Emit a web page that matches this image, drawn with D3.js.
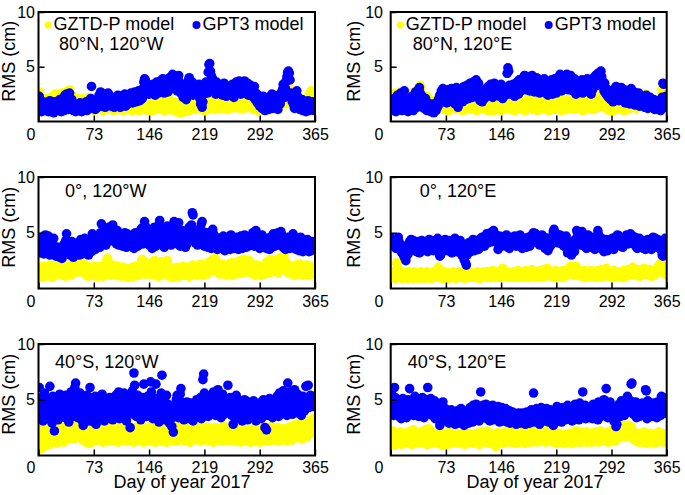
<!DOCTYPE html>
<html><head><meta charset="utf-8">
<script src="https://cdn.jsdelivr.net/npm/d3@7"></script>
<style>body{margin:0;background:#fff} svg text{font-family:"Liberation Sans",Arial,Helvetica,sans-serif;fill:#000}</style>
</head><body><svg id="c" width="685" height="495"></svg>
<script>
const xTicks=[0,73,146,219,292,365];
const yTicks=[5,10];
const panelTitles=["80°N, 120°W","80°N, 120°E","0°, 120°W","0°, 120°E","40°S, 120°W","40°S, 120°E"];
const seriesNames=["GZTD-P model","GPT3 model"];
const xTitle="Day of year 2017";
const yTitle="RMS (cm)";

// Panel 1: 80°N, 120°W
const p1GZTD=[2.7,2.2,1.5,1.2,1.8,2.0,1.4,1.1,1.6,2.1,1.3,1.0,1.7,1.9,1.2,1.5,2.2,1.4,1.0,1.8,2.4,2.5,1.6,1.2,2.0,2.3,1.5,1.1,1.7,2.2,2.6,1.8,1.3,1.0,1.9,2.4,2.7,2.0,1.4,2.8,2.9,2.2,1.6,1.2,1.8,2.3,1.5,1.1,1.3,1.7,1.2,1.9,1.4,1.0,1.6,2.1,1.3,1.1,1.5,1.8,2.0,1.4,1.2,1.7,1.3,1.9,2.2,1.5,1.1,1.6,1.4,1.9,1.2,1.0,1.7,2.0,1.3,1.6,1.1,1.8,1.5,1.2,1.9,1.4,1.0,1.6,2.1,1.3,1.2,1.7,1.4,1.1,1.8,1.5,1.2,1.9,1.3,1.6,1.0,1.4,1.7,1.2,1.5,1.9,1.3,1.1,1.6,1.4,1.8,1.2,1.5,1.0,1.3,1.7,1.2,1.6,1.4,1.1,1.8,1.3,1.2,1.6,1.0,1.4,1.9,1.3,1.1,1.5,1.7,1.2,1.4,1.0,1.6,1.3,1.8,1.2,1.5,1.1,1.7,1.4,1.2,1.6,1.3,1.0,1.5,1.9,1.4,1.1,1.7,1.3,1.0,1.5,1.8,1.2,1.4,1.9,1.1,1.6,2.0,1.3,1.7,1.2,1.5,2.1,1.4,1.0,1.8,1.3,1.6,2.0,1.3,1.1,1.7,1.4,1.9,1.2,1.5,1.0,1.6,1.8,1.2,0.9,1.4,1.7,1.1,1.5,0.8,1.3,1.6,1.0,1.4,1.8,1.2,0.9,1.5,1.1,1.7,1.3,1.0,1.6,1.9,1.4,1.2,1.7,2.0,1.3,1.6,1.1,1.8,2.2,1.5,1.2,1.9,1.4,1.7,2.1,1.3,1.6,1.0,1.5,1.8,1.3,1.1,1.6,2.0,1.4,1.2,1.7,1.9,1.3,1.5,1.1,1.8,2.2,1.4,1.6,1.2,1.9,1.3,1.7,2.1,1.5,1.2,1.8,1.4,1.6,2.0,1.3,1.1,1.7,1.9,1.4,1.6,1.2,2.2,1.5,1.3,1.8,2.4,1.6,1.3,1.7,2.0,1.5,1.2,1.8,2.3,1.4,1.6,1.9,1.2,1.5,2.1,1.7,1.3,1.9,2.4,1.6,1.4,1.8,2.0,1.3,1.6,1.1,1.8,1.4,1.2,1.7,1.5,1.0,1.3,1.6,1.1,1.4,1.8,1.2,1.5,1.0,1.7,1.3,1.6,1.2,1.9,1.4,1.1,1.7,2.0,1.5,1.3,1.8,2.2,1.6,1.4,1.9,2.4,1.7,1.3,2.1,1.8,2.5,1.9,2.3,2.7,2.0,1.6,2.8,3.1,2.4,2.9,3.2,2.6,2.2,1.8,2.5,1.5,1.9,1.3,2.2,1.6,1.4,1.8,1.2,2.0,1.5,1.1,1.7,1.3,1.9,1.4,1.0,1.6,2.0,1.3,1.7,2.2,1.5,1.8,2.4,2.6,2.8,2.3,1.9,2.5,2.7,2.8];
const p1GPT3=[2.3,1.6,1.1,0.9,1.4,1.8,1.2,1.0,1.5,1.3,1.7,1.1,0.9,1.4,1.9,1.3,1.0,1.6,1.2,0.8,1.5,1.8,1.1,1.4,1.0,1.7,1.3,2.0,1.2,0.9,1.6,2.1,1.4,1.0,2.4,1.8,2.5,1.3,1.1,2.2,2.6,1.9,1.5,2.0,1.2,1.0,1.6,1.3,0.9,1.4,1.1,1.5,1.0,1.3,1.7,1.2,0.9,1.4,1.6,1.1,1.5,1.2,1.8,1.0,1.6,1.3,1.9,1.4,2.1,3.2,1.7,1.2,1.5,1.9,1.1,1.6,2.0,1.3,1.8,2.4,1.5,2.7,2.1,1.4,1.9,2.5,1.7,1.3,2.2,1.6,2.0,2.6,1.5,1.8,2.3,1.4,1.9,1.6,2.1,1.3,1.7,2.2,1.5,1.9,2.4,1.6,2.0,1.3,1.8,2.3,1.5,2.1,1.7,2.5,1.4,1.9,2.2,1.6,2.0,2.4,1.8,2.6,2.1,1.7,2.3,1.9,2.7,2.2,1.8,2.5,2.0,2.8,2.3,1.9,2.6,2.4,2.1,3.0,3.6,3.9,3.8,3.5,3.2,2.7,3.0,2.5,2.8,3.3,2.6,2.9,3.4,2.7,3.1,2.4,2.9,3.6,3.2,2.6,3.5,3.0,3.7,2.8,3.3,3.9,3.1,2.6,3.5,2.9,3.8,3.2,2.7,3.4,4.0,3.6,3.1,3.8,4.3,4.1,3.5,3.0,3.7,3.3,2.8,3.9,4.2,3.6,3.1,2.6,3.4,2.9,2.2,2.6,3.1,2.4,2.0,2.7,3.3,3.8,4.0,3.5,3.2,2.8,3.6,2.4,3.0,2.6,3.3,2.9,2.5,3.1,2.7,3.4,2.1,1.6,2.9,1.3,1.8,2.5,3.2,2.8,3.6,3.0,2.6,4.5,5.2,5.3,4.6,4.2,3.5,3.9,3.3,2.8,3.1,2.5,3.6,3.0,2.7,3.4,2.9,3.2,2.6,3.1,2.4,2.8,3.5,2.7,3.0,2.3,2.9,2.5,3.2,2.6,3.0,2.4,2.8,3.4,2.9,2.2,2.7,3.1,3.6,2.9,3.3,2.7,3.7,3.0,2.5,3.4,3.6,2.8,3.1,3.7,2.6,3.2,2.9,3.5,2.4,3.0,2.7,3.3,2.8,2.3,3.0,2.5,3.2,2.0,2.6,2.2,1.7,2.4,1.9,1.4,2.1,1.6,1.2,1.8,2.3,1.5,1.0,1.7,1.3,2.0,1.6,1.1,2.2,1.4,1.8,2.5,1.2,1.9,2.4,1.7,1.3,2.0,1.5,1.1,1.8,2.3,1.6,2.6,2.1,2.9,3.4,2.5,2.2,3.0,3.7,4.1,4.5,4.6,4.4,3.8,2.6,2.1,1.8,2.4,1.5,1.2,2.0,1.6,2.8,2.3,1.4,1.9,1.1,1.7,1.3,2.0,1.0,1.5,1.8,1.2,0.9,1.6,1.3,1.9,1.0,1.4,1.7,1.1,1.5,1.2,1.8,1.0,1.4];

// Panel 2: 80°N, 120°E
const p2GZTD=[1.8,2.4,1.5,1.2,2.0,2.6,1.7,1.3,2.1,1.6,2.3,1.4,1.9,2.7,1.6,1.2,2.0,2.5,1.5,1.8,2.2,1.3,1.7,2.4,1.9,1.4,2.1,2.6,1.6,1.2,1.9,2.3,1.5,2.8,2.1,1.7,2.5,3.1,3.3,2.9,2.4,1.8,2.2,1.5,2.0,1.3,1.7,2.3,1.6,1.1,1.5,1.9,1.2,1.6,1.0,1.4,1.8,1.1,1.5,2.0,1.3,1.7,2.2,1.4,1.8,1.1,1.6,2.0,1.3,1.5,1.9,1.2,1.7,2.1,1.4,1.0,1.6,1.9,1.3,1.5,1.8,1.2,1.4,2.0,1.6,1.1,1.5,1.9,1.3,1.7,1.2,1.6,2.1,1.4,1.0,1.7,1.3,1.8,1.5,1.1,1.6,2.0,1.3,1.7,1.2,1.5,2.2,1.4,1.8,1.1,1.5,1.9,1.3,1.0,1.6,1.4,1.8,1.2,1.5,2.0,1.3,1.7,1.1,1.5,1.9,1.2,1.6,1.0,1.4,1.8,1.2,1.5,1.9,1.3,1.0,1.6,1.4,1.8,1.1,1.5,1.7,1.2,1.4,1.9,1.0,1.6,1.3,1.8,1.5,1.1,1.4,1.8,1.2,1.6,2.0,1.3,1.5,1.1,1.7,1.4,1.9,1.2,1.6,1.0,1.5,1.8,1.3,1.7,2.1,1.4,1.2,1.6,1.9,1.1,1.5,1.3,1.8,1.0,1.4,1.7,2.0,1.3,1.6,1.2,1.9,1.5,1.1,1.7,2.2,1.4,1.2,1.8,1.5,1.0,1.6,2.0,1.3,1.7,1.1,1.5,1.9,1.4,2.3,1.6,1.2,1.8,1.4,2.1,1.0,1.6,1.3,1.7,2.0,1.2,1.5,1.9,1.1,1.6,1.4,1.8,1.2,1.5,2.1,1.3,1.7,1.0,1.6,1.9,1.4,1.2,1.8,1.5,1.1,1.7,2.0,1.3,1.6,1.2,1.9,1.4,1.6,1.1,1.8,1.4,1.2,1.7,2.1,1.5,1.3,1.9,1.4,1.2,1.7,1.0,1.5,1.9,1.3,1.6,2.2,1.4,1.8,1.2,1.5,2.0,1.3,1.7,1.1,1.6,1.9,1.4,1.2,1.7,2.1,1.5,1.3,1.8,2.3,1.6,1.4,2.0,2.4,1.7,1.4,1.9,1.2,1.6,1.3,1.8,1.0,1.5,1.7,1.2,1.4,1.0,1.6,1.9,1.3,1.1,1.5,1.8,1.3,1.6,1.1,1.4,1.9,1.2,1.7,1.5,1.0,1.4,1.8,1.3,1.6,2.0,1.4,1.2,1.7,1.5,1.9,1.3,1.6,2.1,1.4,1.8,1.2,1.5,1.9,2.3,1.7,1.4,2.0,1.6,2.4,1.8,1.3,2.2,2.5,1.9,1.5,1.7,1.3,1.8,2.1,1.5,1.2,1.7,1.4,2.0,1.6,1.1,1.5,1.9,1.3,1.7,1.0,1.4,1.8,2.4,2.9,3.2,3.0,2.2,1.6,1.3,2.0];
const p2GPT3=[1.2,1.8,1.0,1.5,2.1,1.3,0.9,1.6,2.4,1.4,1.1,1.9,2.6,1.5,1.0,1.7,2.2,2.8,1.6,1.2,1.8,1.3,0.9,1.5,2.0,1.1,1.4,2.3,1.7,1.0,1.6,2.5,2.7,1.9,1.3,2.2,2.9,3.1,2.6,2.0,1.5,2.3,1.8,1.2,1.6,2.1,1.4,1.0,1.7,1.3,1.0,1.4,0.9,1.2,1.6,1.1,0.8,1.3,1.5,1.0,1.7,1.3,2.0,1.6,2.4,1.9,2.8,2.2,3.0,2.5,1.9,2.6,2.1,1.7,2.9,2.3,1.8,2.7,2.2,3.0,2.4,1.9,2.8,2.2,1.6,2.6,3.1,2.3,1.3,2.0,2.5,3.0,2.1,2.7,1.8,2.4,3.2,2.6,2.0,2.9,3.3,2.5,2.1,2.8,3.5,2.4,3.0,2.2,3.6,3.1,2.6,3.4,3.8,3.0,2.7,3.5,2.3,1.9,2.5,2.2,1.8,2.4,2.8,2.1,2.6,3.0,2.3,2.7,3.2,2.5,2.9,3.4,2.6,3.1,2.2,2.8,3.5,3.3,2.7,2.4,3.0,2.6,3.2,2.3,2.8,3.4,2.5,2.1,2.9,3.1,2.7,2.4,3.0,4.4,4.9,4.6,3.3,2.8,2.5,3.1,2.6,3.4,2.9,2.3,3.2,2.7,3.6,3.0,2.5,3.8,3.3,2.8,3.5,3.9,3.1,4.0,4.2,3.6,2.9,3.4,4.1,3.7,3.2,2.8,3.5,3.0,4.2,3.8,3.3,2.7,3.6,3.1,4.0,2.9,3.4,3.8,2.6,3.2,3.7,3.0,3.5,2.8,3.9,3.3,2.6,3.1,3.6,2.4,3.0,3.4,2.7,3.2,3.8,2.5,2.9,3.5,3.9,3.1,2.6,3.3,4.0,3.6,3.0,4.3,3.4,2.8,3.7,3.2,4.1,3.5,3.0,3.8,4.3,3.5,2.9,3.3,3.9,4.2,3.1,3.6,2.8,3.4,3.9,3.0,2.5,3.2,3.7,2.7,3.3,2.9,3.5,3.1,3.8,2.6,3.2,3.6,3.0,3.4,2.8,3.9,3.3,2.7,3.1,3.7,2.5,3.2,2.9,3.5,4.0,3.6,4.2,3.8,3.3,4.4,3.9,3.4,4.5,4.6,4.1,3.7,3.2,2.8,3.5,2.6,3.0,2.4,2.9,2.2,2.7,2.5,2.0,2.6,2.3,1.8,2.9,2.4,2.1,3.2,2.7,2.2,2.5,1.9,2.8,2.3,3.1,2.6,2.0,2.4,2.9,1.7,2.2,2.6,1.9,2.4,2.1,1.6,2.3,3.0,2.5,1.8,2.1,2.7,1.5,2.0,2.4,1.8,2.2,2.6,1.4,1.9,2.3,1.7,2.1,1.5,2.0,1.3,1.8,2.4,1.6,1.2,1.9,1.5,2.2,1.7,1.3,1.8,1.4,2.0,1.1,1.6,1.3,1.9,1.5,1.1,1.7,1.4,1.0,1.6,2.2,3.5,3.4,1.8,1.3,2.3,1.5];

// Panel 3: 0°, 120°W
const p3GZTD=[1.5,1.2,1.8,1.0,1.4,2.0,1.3,1.6,1.1,1.9,1.4,1.7,1.2,1.5,2.1,1.3,1.8,1.0,1.6,1.4,1.9,1.2,1.5,2.2,1.7,1.3,2.6,3.7,1.8,1.4,1.6,2.0,1.2,1.5,1.8,1.1,1.4,1.9,1.3,1.7,1.5,2.1,1.2,1.6,1.9,1.4,2.3,1.7,2.0,2.5,1.8,2.2,1.5,2.4,2.8,2.0,1.6,2.3,1.9,1.4,1.7,2.1,1.3,1.6,1.1,1.5,1.9,1.2,1.7,1.4,1.8,1.2,1.5,2.0,1.3,1.6,1.1,1.4,1.9,1.5,1.2,1.7,2.0,1.4,1.1,1.6,1.9,1.3,2.2,2.5,2.7,1.8,1.4,1.6,1.2,1.9,1.5,2.1,1.3,1.7,1.4,1.8,1.2,1.6,2.0,1.3,1.7,1.5,1.1,1.8,1.4,1.9,1.6,1.2,1.5,1.8,1.3,1.0,1.6,1.4,1.2,1.7,1.5,1.9,1.3,1.1,1.6,2.0,1.4,1.8,1.5,1.2,1.7,2.1,1.9,2.4,2.6,2.0,1.6,1.3,1.7,2.2,1.5,1.8,1.3,1.6,2.0,1.4,1.9,2.3,1.6,1.2,2.5,1.8,1.4,2.1,1.5,1.1,1.7,1.3,2.0,2.4,1.6,1.9,1.3,1.5,2.2,1.4,1.8,2.5,1.7,1.2,1.5,1.1,1.6,1.3,1.8,1.0,1.4,1.7,1.2,1.5,1.9,1.3,1.6,1.1,1.4,1.8,1.2,1.5,2.0,1.4,1.7,1.2,1.6,1.9,1.3,1.5,1.1,1.4,1.8,1.2,1.6,2.1,1.4,1.7,1.3,1.9,1.5,1.2,1.6,2.0,1.3,1.7,2.2,1.5,1.2,1.8,1.4,1.6,2.1,1.3,1.7,2.3,1.5,1.9,2.4,1.6,2.0,2.6,2.2,1.8,2.7,2.4,1.9,1.5,2.1,1.7,1.3,1.6,1.9,1.4,2.2,1.6,1.3,1.8,2.0,1.5,1.2,1.7,2.1,1.4,1.8,2.3,1.6,1.2,1.9,1.5,2.2,1.7,1.3,2.0,2.4,1.6,1.9,2.5,1.8,1.4,2.2,1.7,2.6,2.1,1.5,1.9,2.3,1.6,2.0,2.5,1.8,1.4,2.2,1.7,1.4,2.0,1.6,1.2,1.8,1.5,2.1,1.3,1.7,1.4,1.9,1.2,1.6,2.0,1.5,1.3,1.8,2.2,1.6,2.4,1.9,1.4,2.1,2.6,1.8,1.5,2.3,1.7,2.0,2.5,1.6,2.2,1.9,1.4,2.4,2.7,2.1,1.8,2.3,2.6,2.0,3.0,3.3,2.4,1.9,2.2,1.6,1.4,1.8,1.5,2.0,1.3,1.7,1.4,1.9,1.2,1.6,2.1,1.5,1.8,1.3,1.6,2.2,1.4,1.9,1.7,1.2,2.0,1.6,1.3,1.8,2.1,1.5,1.7,1.2,1.9,1.4,1.6,2.0,1.5,1.8,1.3,1.7];
const p3GPT3=[3.6,3.2,4.0,3.5,4.6,3.8,3.1,4.3,4.8,3.9,3.4,4.1,4.7,3.7,3.0,4.4,3.6,4.0,3.3,4.5,3.8,3.2,2.9,3.5,3.0,3.7,3.3,2.8,3.4,3.1,2.7,3.6,3.2,4.0,3.5,4.3,4.9,4.1,3.6,3.9,3.4,3.0,3.7,4.2,3.3,2.8,3.5,4.0,3.2,3.8,3.3,4.1,3.6,3.0,3.9,4.4,3.5,3.1,4.2,3.7,4.5,3.8,3.2,4.0,3.6,3.0,3.4,4.1,3.7,3.3,4.9,4.3,3.8,4.6,3.5,4.0,4.4,3.9,4.7,4.2,3.7,5.0,5.8,4.5,4.1,4.8,5.2,4.4,3.9,4.6,5.3,4.9,5.5,4.7,5.1,4.3,5.4,5.7,4.8,4.2,5.0,4.4,4.0,5.2,4.6,3.9,4.5,4.1,4.8,4.3,3.8,4.6,4.2,5.0,4.4,3.7,4.9,4.3,4.0,4.7,4.2,3.9,4.5,4.8,4.1,3.6,4.4,5.0,4.6,4.2,3.8,4.5,5.1,4.3,4.9,5.4,4.6,4.0,5.2,6.0,5.6,5.0,4.4,5.3,4.7,3.9,4.5,5.1,4.1,3.6,4.8,4.2,5.5,4.6,3.8,4.4,5.0,4.3,5.7,6.1,5.2,4.6,4.0,5.4,4.5,3.7,4.9,5.3,4.2,5.6,4.8,4.1,5.2,4.4,3.9,5.0,4.6,5.5,6.0,5.1,4.5,5.3,4.0,4.7,5.9,4.3,3.8,4.9,4.4,5.2,4.6,4.1,5.0,3.7,4.5,4.0,4.8,4.3,5.5,5.0,4.4,5.7,6.8,6.6,5.3,4.7,4.1,5.0,4.5,3.9,4.6,5.2,4.3,4.9,5.8,6.0,5.1,4.4,3.8,4.7,4.2,5.0,4.5,3.7,4.3,4.0,4.8,3.6,4.4,5.3,4.9,4.3,3.9,4.6,4.1,3.5,4.5,4.0,3.8,4.3,3.6,4.2,3.9,4.7,4.0,3.4,4.4,3.8,4.6,4.1,3.7,4.3,3.5,4.8,4.2,3.9,4.5,3.6,4.1,4.4,3.8,4.6,4.0,3.5,4.3,3.9,4.7,4.1,3.6,4.4,4.0,4.8,4.2,3.7,4.5,4.1,3.8,4.6,4.3,3.9,4.7,4.2,5.0,4.4,3.8,4.5,5.2,4.3,3.9,4.6,4.1,3.6,4.4,4.0,4.8,3.7,4.3,3.9,4.5,4.2,3.6,4.3,3.8,4.1,3.5,4.6,4.0,3.7,4.4,4.9,4.2,3.8,4.5,4.0,4.7,5.0,4.3,3.9,4.6,5.1,4.8,4.1,3.7,4.4,4.0,3.5,4.2,3.8,4.6,3.9,4.3,3.6,4.1,3.7,4.5,4.9,4.2,3.8,4.4,3.5,4.0,3.7,4.3,3.4,3.9,4.6,3.6,4.1,3.3,3.8,4.2,3.5,4.0,3.6,4.4,3.8,3.3,3.9,4.1,3.4,3.7,4.2,3.6,4.0,3.5];

// Panel 4: 0°, 120°E
const p4GZTD=[1.3,1.0,1.5,1.1,1.4,0.9,1.6,2.3,2.1,1.2,1.0,1.4,1.1,1.3,0.9,1.5,1.2,1.0,1.4,1.1,1.3,0.9,1.2,1.5,1.0,1.3,1.1,1.4,0.9,1.2,1.5,1.1,1.3,1.0,1.4,1.2,0.9,1.3,1.1,1.5,1.2,1.0,1.4,1.1,1.3,0.9,1.2,1.5,1.0,1.3,1.1,1.4,0.9,1.2,1.0,1.3,1.5,1.1,1.4,1.0,1.2,1.6,1.9,1.3,1.0,1.4,1.1,1.3,0.9,1.2,1.5,1.1,1.4,1.0,1.3,1.2,0.9,1.4,1.1,1.3,1.0,1.2,1.5,1.1,1.3,0.9,1.2,1.4,1.0,1.3,1.1,1.5,1.2,1.0,1.4,1.1,1.3,0.9,1.2,1.4,1.1,1.3,1.0,1.5,1.2,1.4,1.0,1.3,1.1,1.2,1.4,1.0,1.3,1.1,1.5,1.2,0.9,1.4,1.1,1.3,1.0,1.2,1.5,1.1,1.4,1.3,1.0,1.2,1.5,1.1,1.3,1.0,1.4,1.2,1.6,1.1,1.3,1.0,1.5,1.2,1.4,1.1,1.3,1.0,1.5,1.2,1.4,1.8,1.6,1.3,1.1,1.4,1.2,1.5,1.0,1.3,1.1,1.4,1.2,1.0,1.3,1.5,1.1,1.4,1.2,1.0,1.3,1.6,1.1,1.4,1.2,1.0,1.5,1.3,1.1,1.4,1.2,1.6,1.0,1.3,1.1,1.5,1.3,1.0,1.4,1.2,1.7,1.3,1.1,1.4,1.2,1.0,1.5,1.3,1.1,1.4,1.2,1.6,1.3,1.0,1.4,1.2,1.7,1.1,1.3,1.5,1.8,1.4,1.2,1.6,1.3,1.1,1.5,1.2,1.4,1.0,1.3,1.6,1.2,1.4,1.1,1.3,1.5,1.2,1.0,1.4,1.2,1.6,1.3,1.1,1.4,1.2,1.5,1.3,1.7,1.4,1.8,2.0,1.6,1.3,1.5,1.2,1.4,1.7,2.0,1.8,1.5,1.3,1.6,1.2,1.4,1.1,1.3,1.5,1.2,1.6,1.0,1.4,1.2,1.3,1.5,1.1,1.4,1.2,1.6,1.3,1.1,1.5,1.2,1.4,1.0,1.3,1.6,1.2,1.4,1.1,1.5,1.3,1.7,1.2,1.4,1.1,1.3,1.6,1.8,1.5,1.2,1.4,1.1,1.3,1.5,1.2,1.0,1.4,1.6,1.3,1.1,1.5,1.2,1.4,1.1,1.3,1.5,1.2,1.4,1.0,1.3,1.6,1.2,1.4,1.1,1.5,1.3,1.7,1.4,1.2,1.5,1.3,1.6,1.9,1.5,1.3,1.6,1.2,1.4,1.7,1.3,1.5,1.1,1.4,1.6,1.3,1.5,1.2,1.8,1.4,1.6,1.3,1.5,1.2,1.4,1.7,1.3,1.5,1.1,1.4,1.6,1.2,1.5,1.3,1.7,1.4,1.9,1.5,2.0,2.2,1.8,1.5,2.1,1.6,1.4,1.8,1.3,1.6,1.2];
const p4GPT3=[4.5,4.2,4.0,4.4,3.8,4.3,3.6,4.1,3.9,4.6,4.2,3.7,3.4,3.9,3.2,3.6,3.0,2.8,3.3,2.5,2.9,3.5,3.1,3.8,4.2,3.6,4.4,4.0,3.7,4.3,3.9,3.5,4.1,3.3,3.8,4.2,3.6,3.2,4.0,3.7,4.3,3.4,3.9,3.6,4.2,3.8,3.5,4.1,3.3,3.9,4.4,3.7,4.2,3.9,3.5,4.0,3.4,3.8,4.3,3.6,4.1,4.5,3.7,3.2,2.9,3.0,3.6,3.3,3.9,4.2,3.8,4.4,3.6,4.1,3.4,3.9,4.3,3.7,4.0,3.5,3.2,3.8,4.2,3.6,4.5,3.9,3.3,4.1,3.7,3.4,3.8,4.3,3.5,3.0,3.9,3.3,2.6,3.6,2.3,2.1,3.0,3.7,4.1,3.5,3.9,3.3,4.2,3.7,4.4,3.8,3.4,4.0,3.6,4.3,3.9,3.5,4.1,3.7,4.5,4.2,4.6,4.0,4.4,3.8,4.7,4.3,4.9,4.5,4.1,4.8,4.4,5.0,4.6,4.2,4.9,5.2,4.7,4.3,4.8,4.5,4.1,3.5,4.3,4.7,4.0,4.4,3.8,4.6,4.2,3.9,4.5,4.1,4.8,4.4,3.7,4.3,3.6,4.0,4.6,4.2,3.9,4.5,4.1,4.7,4.3,3.8,4.4,4.0,4.6,4.2,4.8,4.4,4.0,3.6,4.3,3.9,4.5,4.1,3.7,4.4,4.0,4.6,4.2,3.8,4.5,4.1,4.8,4.4,5.0,4.7,4.3,4.9,4.5,4.1,4.7,4.3,3.9,4.6,4.2,4.8,4.4,4.0,4.6,3.6,4.2,3.8,4.5,3.4,4.1,3.7,4.3,3.9,4.6,4.1,5.1,5.3,4.8,4.4,4.9,4.5,4.1,4.7,4.3,4.8,4.4,4.0,4.6,4.2,3.8,4.5,4.1,4.7,3.6,3.2,3.7,3.4,3.9,3.5,3.0,3.6,4.2,3.8,3.3,4.4,3.9,5.2,5.0,4.6,4.9,4.3,3.9,4.5,5.1,4.7,4.2,3.8,4.4,4.0,3.6,4.3,4.8,4.4,4.1,3.7,4.5,4.2,3.8,4.6,4.0,3.5,4.3,3.9,4.7,5.2,4.8,4.4,4.0,3.6,4.5,4.1,3.7,3.3,3.9,3.5,4.4,4.0,3.4,3.8,4.3,3.6,4.1,3.7,4.5,4.0,3.5,4.2,4.6,3.9,4.4,4.8,4.3,4.7,4.2,3.8,4.5,4.1,3.7,4.4,4.0,4.6,4.2,4.8,4.4,4.0,4.6,4.2,4.9,4.5,4.1,4.7,4.3,4.0,4.6,3.8,4.4,3.6,4.2,3.9,4.5,4.1,3.7,4.3,4.0,3.6,4.2,3.8,3.5,4.1,3.7,4.4,4.0,3.6,4.3,3.9,3.5,4.2,4.6,4.3,3.9,4.5,4.1,3.8,4.4,4.0,3.6,4.3,3.9,3.4,3.0,2.9,3.7,4.2,4.5,4.0,4.3];

// Panel 5: 40°S, 120°W
const p5GZTD=[2.3,1.4,0.6,1.8,2.6,1.1,0.8,2.0,1.5,2.4,1.2,1.9,2.5,1.6,1.0,2.2,1.4,2.7,1.8,1.3,2.1,1.6,2.4,1.1,1.9,2.6,1.5,2.2,1.3,2.0,2.5,1.7,1.2,2.3,1.8,2.8,1.4,2.1,2.6,1.6,2.2,2.9,1.8,2.4,3.0,1.5,2.7,2.0,3.2,2.5,1.9,2.8,3.1,2.3,1.7,2.6,2.1,1.4,2.9,2.4,1.8,2.3,1.2,2.0,2.7,1.5,2.2,1.1,1.9,2.5,1.6,2.4,2.8,1.3,2.1,1.7,2.6,1.4,2.0,2.9,2.3,1.5,2.7,1.9,1.2,2.4,1.8,2.6,1.4,2.1,2.5,1.7,2.2,1.3,1.9,2.6,1.5,2.0,2.4,1.6,2.1,1.4,2.5,1.8,1.2,2.3,1.6,2.7,1.9,1.3,2.2,1.7,2.4,1.5,2.0,1.3,2.6,1.8,2.2,1.4,1.9,2.3,1.5,2.5,1.2,2.0,1.7,2.4,1.4,2.1,1.6,2.6,1.9,1.3,2.2,1.5,2.4,1.8,1.2,2.0,2.5,1.6,2.1,1.4,2.3,1.7,2.6,1.3,1.9,2.2,1.5,2.4,1.8,1.2,2.1,1.6,2.5,1.4,2.0,1.7,2.3,1.3,1.9,2.6,1.5,2.2,1.7,2.4,1.2,1.8,2.1,1.5,2.5,1.9,1.3,2.3,1.6,2.0,1.4,2.2,1.7,2.4,1.3,1.9,2.6,1.5,2.1,1.8,2.3,1.4,2.0,1.6,2.5,1.3,2.2,1.8,1.5,2.4,1.9,1.2,2.1,1.7,2.6,1.4,2.3,1.9,1.5,2.2,1.8,2.5,1.4,2.0,1.6,2.4,1.3,2.1,1.8,2.6,1.5,2.3,1.9,1.4,2.2,1.7,2.5,1.3,2.0,1.6,2.4,1.8,1.2,2.1,1.7,2.5,1.4,2.3,1.9,1.5,2.2,1.6,2.4,1.3,2.0,1.8,2.6,1.5,2.2,1.4,1.9,2.3,1.6,2.1,1.3,2.5,1.8,1.4,2.2,1.7,2.4,1.5,2.0,1.3,2.3,1.8,1.5,2.1,1.2,1.9,2.4,1.6,1.4,2.2,1.7,1.3,2.0,1.6,2.3,1.5,1.9,1.2,2.1,1.7,1.4,2.4,1.6,2.0,1.3,1.8,2.2,1.5,1.9,1.2,2.3,1.6,2.0,1.4,2.5,1.8,1.3,2.1,1.6,2.4,1.9,1.3,2.2,1.7,2.6,1.5,2.0,1.4,2.3,1.8,1.4,2.1,1.6,2.5,1.3,1.9,2.2,1.5,2.0,1.7,2.4,1.4,2.1,1.6,2.3,1.3,1.8,2.5,1.5,2.2,1.9,2.6,1.4,2.0,2.4,1.7,2.8,2.2,1.6,2.5,2.0,2.9,1.8,2.3,2.7,1.5,2.1,2.6,1.9,2.4,3.0,2.2,1.7,2.8,2.3,3.1,2.5,2.0,2.9,3.3,2.4,2.7,3.1];
const p5GPT3=[6.1,4.4,3.6,5.2,4.0,3.1,4.8,5.6,3.8,4.3,3.3,5.0,4.1,3.7,6.2,4.6,3.9,2.9,5.3,4.2,2.2,4.7,3.5,5.1,4.0,3.2,4.5,5.5,3.8,4.3,4.9,3.6,5.2,4.1,3.4,5.4,4.6,3.9,4.4,3.0,5.0,3.7,5.7,4.2,3.5,5.6,4.5,6.1,6.5,5.3,4.1,3.4,4.8,3.9,5.6,4.4,3.2,4.9,2.7,4.3,3.6,5.1,4.2,5.4,3.8,4.6,3.1,6.1,5.2,4.0,3.5,4.8,3.0,4.3,5.3,2.8,3.9,4.6,3.6,5.0,4.2,3.3,4.7,5.5,3.8,4.4,3.1,5.1,3.7,4.9,4.5,3.4,4.0,5.2,4.3,3.6,4.8,3.2,5.0,4.1,3.5,5.4,4.6,3.8,4.2,5.7,3.3,4.7,3.9,5.1,4.4,3.6,5.6,4.8,4.0,3.1,4.9,4.3,5.3,3.7,2.5,4.6,3.9,5.8,4.4,7.4,6.3,4.9,3.5,4.2,5.4,4.1,3.6,5.0,3.2,4.5,5.2,3.8,6.4,4.7,4.0,4.8,3.5,5.3,4.3,3.7,4.9,6.6,5.7,4.4,3.3,4.6,3.9,5.1,6.4,4.2,3.6,4.8,3.0,3.8,5.0,5.6,7.2,4.3,3.7,4.9,3.2,4.5,5.4,4.0,4.6,3.5,2.9,4.2,3.8,2.6,3.4,2.1,3.9,4.5,3.6,5.0,5.4,4.2,3.4,4.7,5.5,6.0,4.8,3.9,4.4,3.2,3.7,4.3,3.5,4.8,3.9,4.5,3.3,4.0,4.7,3.6,4.3,3.1,3.8,4.5,3.4,4.1,5.0,3.7,4.4,3.9,4.6,5.2,3.3,4.8,6.8,7.3,5.6,4.2,3.8,4.5,5.1,3.5,4.9,4.0,4.6,5.4,3.7,4.3,5.7,4.1,4.8,3.6,5.3,4.4,5.9,3.9,4.7,4.2,3.4,4.9,5.5,4.3,3.7,4.6,5.1,4.0,4.5,6.3,4.8,3.9,5.2,4.4,3.6,5.0,2.8,4.2,3.5,4.7,5.4,4.0,4.5,3.3,4.9,4.1,3.7,4.6,3.1,4.3,3.8,5.0,4.4,3.5,4.7,3.2,4.1,4.8,3.6,4.5,3.9,4.3,3.4,4.9,3.7,4.2,3.1,4.6,3.8,4.1,3.5,4.7,4.0,3.3,4.4,3.8,5.0,4.2,2.5,3.6,2.3,4.5,4.9,3.6,5.1,4.3,3.9,4.7,3.4,4.1,4.8,3.7,4.4,4.0,5.3,4.6,3.5,5.6,4.2,3.8,4.9,4.3,5.8,3.9,4.7,5.4,4.1,3.6,6.5,5.0,4.4,5.7,4.0,4.8,3.7,4.5,5.2,5.9,4.3,3.9,4.7,5.5,3.8,4.2,5.1,4.6,3.6,4.4,5.3,4.9,4.0,4.5,6.2,5.2,4.7,6.3,4.3,5.0,5.4,4.6,5.1,4.4,5.3,4.8,4.5];

// Panel 6: 40°S, 120°E
const p6GZTD=[1.8,1.2,2.2,1.5,0.9,1.7,2.0,1.3,1.6,1.1,1.9,1.4,2.1,1.0,1.6,1.3,1.8,1.2,1.5,2.0,1.3,1.7,1.1,1.9,1.4,2.2,1.6,1.0,1.8,2.3,1.5,1.2,2.0,1.7,1.3,1.9,1.1,1.6,2.1,1.4,1.8,1.2,1.5,2.0,1.3,2.3,1.7,1.0,1.9,2.4,1.6,1.3,2.1,1.5,1.1,1.8,1.4,2.0,1.2,1.6,1.9,1.3,1.7,1.1,1.5,2.0,1.4,0.9,1.8,1.2,1.6,1.9,1.3,1.7,1.0,1.5,2.1,1.2,1.8,1.4,1.6,1.1,1.9,1.4,1.7,1.2,2.0,1.5,1.3,1.8,1.1,1.6,1.4,1.9,1.2,1.7,1.5,1.0,1.8,1.3,1.6,2.0,1.2,1.5,1.8,1.3,1.7,1.1,1.9,1.4,1.2,1.7,1.5,2.0,1.3,1.6,1.0,1.8,1.4,2.1,1.5,1.2,1.9,1.6,1.3,1.8,2.2,1.4,1.7,1.1,1.6,2.0,1.3,1.8,1.5,1.2,1.9,1.6,0.8,1.4,1.8,1.3,2.1,1.6,1.2,1.9,1.5,1.7,1.1,1.4,2.0,1.6,1.3,1.8,2.3,1.5,1.2,1.7,1.4,1.9,2.2,1.5,1.3,1.8,1.1,1.6,2.0,1.4,1.7,1.2,1.5,1.9,1.3,1.6,2.1,1.4,1.8,1.1,1.6,2.0,1.3,1.7,2.2,1.5,1.9,1.2,2.4,1.6,2.0,1.4,1.8,2.3,1.5,1.2,1.9,1.6,2.2,1.4,1.7,2.0,1.3,1.8,2.1,1.5,1.2,1.9,1.6,2.3,1.4,1.7,2.0,1.3,1.6,1.9,1.2,2.2,1.5,1.8,1.4,1.1,1.7,2.0,1.3,1.6,1.9,1.2,1.5,1.8,1.4,1.1,1.6,1.9,1.3,1.7,1.2,1.5,2.0,1.4,1.8,1.1,1.5,1.9,1.3,1.6,2.2,1.4,1.8,1.2,1.7,2.1,1.4,1.8,1.2,1.6,2.0,1.3,1.7,1.5,2.1,1.2,1.6,1.9,1.4,1.7,1.2,2.0,1.5,1.8,1.3,1.6,2.1,1.4,1.7,1.2,1.9,1.5,2.2,1.3,1.8,1.6,1.4,2.0,1.7,1.3,1.9,1.5,2.1,1.2,1.8,1.6,2.2,1.4,1.9,1.6,2.4,1.8,1.3,2.1,1.7,2.3,1.9,2.5,1.6,2.2,1.8,2.6,2.0,2.4,1.7,2.7,2.1,2.5,1.8,2.3,2.7,1.9,2.4,2.6,1.6,2.2,1.8,1.4,2.0,1.6,1.3,1.9,1.5,1.2,1.7,2.0,1.4,1.8,1.2,1.6,2.1,1.3,1.7,1.5,1.1,1.9,1.4,1.7,1.2,2.0,1.5,1.3,1.8,1.6,1.1,1.9,1.5,1.2,1.7,2.1,1.4,1.8,1.3,1.6,2.0,1.2,1.7,1.4,1.9,1.3,1.6];
const p6GPT3=[5.6,4.8,4.2,3.6,6.1,5.2,4.5,3.9,5.0,4.3,3.5,4.7,4.1,3.3,4.9,5.1,4.4,3.8,4.6,4.0,3.4,4.8,5.0,4.2,6.0,4.5,3.7,4.9,4.3,3.6,4.1,5.3,4.6,3.9,4.4,5.0,3.5,4.7,4.2,3.8,4.6,5.2,4.0,3.4,4.8,4.3,5.0,3.7,6.1,4.5,3.9,4.6,5.1,4.2,3.6,4.4,3.8,4.9,3.3,4.7,4.1,3.5,4.5,3.9,2.7,3.3,4.3,3.7,4.8,4.0,3.4,4.2,3.7,3.1,4.0,3.5,2.9,3.8,3.3,4.1,3.6,3.0,3.9,3.4,2.8,3.7,3.2,4.0,3.5,2.9,3.8,3.3,4.2,3.6,3.1,3.9,2.7,3.4,3.8,3.2,4.0,3.5,2.9,3.7,4.3,3.3,3.9,3.0,4.5,3.6,3.2,4.1,4.6,3.8,3.4,4.0,3.1,3.7,5.7,4.4,3.9,4.5,3.5,4.2,3.8,4.6,3.3,4.0,3.6,4.4,3.1,3.7,4.2,3.4,4.5,3.9,3.2,4.3,3.6,4.0,3.3,4.4,3.8,3.0,4.1,3.5,4.3,3.7,3.1,3.9,3.4,4.2,3.6,3.0,3.8,3.3,4.0,2.9,3.5,3.2,3.9,3.4,3.0,3.7,3.2,2.8,3.6,3.1,3.8,3.3,2.9,3.5,3.2,3.8,3.0,3.6,3.3,2.8,3.4,3.9,3.1,3.7,3.3,2.9,3.6,4.1,3.2,3.8,5.6,3.5,3.0,3.6,4.2,3.3,3.9,3.4,2.8,3.7,4.3,3.2,3.8,3.4,4.0,3.1,3.7,4.2,3.3,3.9,3.0,3.6,4.1,3.5,3.2,3.8,2.7,3.4,4.0,3.3,3.7,4.4,3.6,3.1,3.9,3.4,4.2,3.0,3.7,4.3,3.5,3.8,3.2,4.0,3.6,4.5,3.3,3.9,3.4,4.1,3.7,3.1,4.2,3.8,3.4,4.6,3.5,4.0,3.6,4.3,3.2,4.7,3.9,4.4,3.5,5.7,4.1,3.7,4.5,3.3,4.0,3.6,4.3,3.8,3.4,4.2,3.6,4.0,3.3,4.6,3.9,3.5,4.1,3.7,4.4,3.2,4.8,3.8,4.2,3.5,4.6,4.0,3.6,5.0,4.3,3.9,6.0,4.5,3.4,4.1,3.7,4.8,4.2,3.5,4.4,3.8,3.1,4.0,3.3,2.6,2.8,4.3,3.7,4.6,4.1,3.5,4.9,3.8,4.4,4.7,3.6,4.2,4.8,4.2,5.3,3.9,4.6,4.0,4.9,6.4,6.5,4.1,3.7,4.5,3.9,4.8,3.4,4.2,3.8,4.6,3.5,4.3,4.0,3.6,4.7,4.4,3.8,4.5,5.9,5.8,3.3,4.9,4.2,3.7,4.6,4.0,3.5,4.3,3.9,4.7,3.6,4.4,4.1,3.4,4.8,3.8,4.5,4.0,3.6,5.3,4.2,3.9,5.2,4.4,3.8,4.6,4.1];

const panels=[
  {t:panelTitles[0],g:p1GZTD,b:p1GPT3,r:0,c:0},
  {t:panelTitles[1],g:p2GZTD,b:p2GPT3,r:0,c:1},
  {t:panelTitles[2],g:p3GZTD,b:p3GPT3,r:1,c:0},
  {t:panelTitles[3],g:p4GZTD,b:p4GPT3,r:1,c:1},
  {t:panelTitles[4],g:p5GZTD,b:p5GPT3,r:2,c:0},
  {t:panelTitles[5],g:p6GZTD,b:p6GPT3,r:2,c:1}
];

const YELLOW="#ffff00", BLUE="#0000ff";
const cols=[{x0:38.5,x1:315,lab:35,rms:15,annDx:[20.5,26.5,16.5],xt:182},
            {x0:390.7,x1:666.7,lab:383,rms:360,annDx:[22,29,17],xt:535}];
const rows=[{y0:12,y1:121.5,annDy:38},{y0:177,y1:288.5,annDy:20},{y0:344,y1:455.5,annDy:24}];

const svg=d3.select("#c");
const defs=svg.append("defs");

panels.forEach((p,k)=>{
  const C=cols[p.c], R=rows[p.r];
  const x=d3.scaleLinear().domain([0,365]).range([C.x0,C.x1]);
  const y=d3.scaleLinear().domain([0,10]).range([R.y1,R.y0]);
  const cid="clip"+k;
  defs.append("clipPath").attr("id",cid).append("rect")
    .attr("x",C.x0).attr("y",R.y0).attr("width",C.x1-C.x0).attr("height",R.y1-R.y0);
  const g=svg.append("g");
  const pts=g.append("g").attr("clip-path",`url(#${cid})`);
  pts.selectAll("circle.g").data(p.g).join("circle").attr("class","g")
    .attr("cx",(v,i)=>x(i+1)).attr("cy",v=>y(v)).attr("r",4.8).attr("fill",YELLOW);
  pts.selectAll("circle.b").data(p.b).join("circle").attr("class","b")
    .attr("cx",(v,i)=>x(i+1)).attr("cy",v=>y(v)).attr("r",4.8).attr("fill",BLUE);

  const pad = p.r===2 ? 6 : 7;
  const xa=g.append("g").attr("transform",`translate(0,${R.y1})`)
    .call(d3.axisBottom(x).tickValues(xTicks).tickSizeInner(-6).tickSizeOuter(0).tickPadding(pad).tickFormat(d3.format("d")));
  xa.select(".domain").remove();
  xa.selectAll("line").attr("stroke","#000").attr("stroke-width",1.5);
  xa.selectAll("text").attr("font-size",16).attr("font-family","Liberation Sans, Arial, sans-serif").attr("fill","#000");
  xa.selectAll(".tick").filter(d=>d===0).select("text")
    .attr("text-anchor","end").attr("x",C.lab-C.x0);
  const ya=g.append("g").attr("transform",`translate(${C.x0},0)`)
    .call(d3.axisLeft(y).tickValues(yTicks).tickSizeInner(-6).tickSizeOuter(0).tickPadding(C.x0-C.lab));
  ya.select(".domain").remove();
  ya.selectAll("line").attr("stroke","#000").attr("stroke-width",1.5);
  ya.selectAll("text").attr("font-size",16).attr("font-family","Liberation Sans, Arial, sans-serif").attr("fill","#000");

  g.append("rect").attr("x",C.x0).attr("y",R.y0).attr("width",C.x1-C.x0).attr("height",R.y1-R.y0)
    .attr("fill","none").attr("stroke","#000").attr("stroke-width",2);

  g.append("text").attr("x",C.x0+C.annDx[p.r]).attr("y",R.y0+R.annDy)
    .attr("font-size",18).text(p.t);

  g.append("text").attr("transform",`translate(${C.rms},${(R.y0+R.y1)/2-5.5}) rotate(-90)`)
    .attr("text-anchor","middle").attr("font-size",18).text(yTitle);

  if(p.r===0){
    const ly=R.y0+13;
    g.append("circle").attr("cx",C.x0+9.5).attr("cy",ly).attr("r",3.5).attr("fill",YELLOW);
    g.append("text").attr("x",C.x0+15).attr("y",R.y0+18).attr("font-size",18).text(seriesNames[0]);
    g.append("circle").attr("cx",C.x0+158).attr("cy",ly).attr("r",4).attr("fill",BLUE);
    g.append("text").attr("x",C.x0+164).attr("y",R.y0+18).attr("font-size",18).text(seriesNames[1]);
  }
  if(p.r===2){
    g.append("text").attr("x",C.xt).attr("y",488).attr("text-anchor","middle").attr("font-size",18).text(xTitle);
  }
});
</script></body></html>
